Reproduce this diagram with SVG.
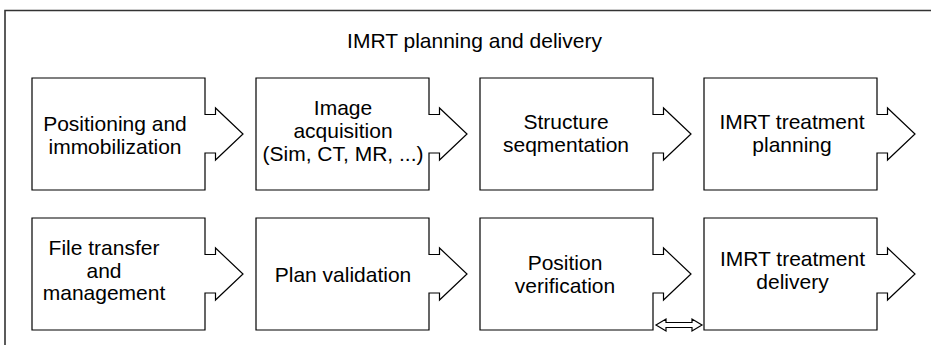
<svg xmlns="http://www.w3.org/2000/svg" width="931" height="345" viewBox="0 0 931 345">
<style>
.box{fill:#fff;stroke:#000;stroke-width:1.2;stroke-linejoin:miter}
.t{font-family:"Liberation Sans",Arial,sans-serif;font-size:21px;fill:#000;text-anchor:middle}
.frame{fill:none;stroke:#333;stroke-width:1.6}
.conn{fill:#fff;stroke:#000;stroke-width:1.2}
</style>
<defs>
<path id="shape" d="M0,0 H173 V36.5 H183.5 V30 L211,56 L183.5,82 V75 H173 V112 H0 Z"/>
</defs>
<rect width="931" height="345" fill="#fff"/>
<path class="frame" d="M5,345 V10.5 H931"/>
<text class="t" x="474.5" y="48">IMRT planning and delivery</text>

<g id="n1" transform="translate(32,78)">
<use href="#shape" class="box"/>
<text class="t" x="83" y="53">Positioning and</text>
<text class="t" x="83" y="75.5">immobilization</text>
</g>
<g id="n2" transform="translate(256,78)">
<use href="#shape" class="box"/>
<text class="t" x="87" y="37">Image</text>
<text class="t" x="87" y="60">acquisition</text>
<text class="t" x="87" y="83">(Sim, CT, MR, ...)</text>
</g>
<g id="n3" transform="translate(480,78)">
<use href="#shape" class="box"/>
<text class="t" x="86" y="50.5">Structure</text>
<text class="t" x="86" y="73.5">seqmentation</text>
</g>
<g id="n4" transform="translate(704,78)">
<use href="#shape" class="box"/>
<text class="t" x="88" y="50.5">IMRT treatment</text>
<text class="t" x="88" y="73.5">planning</text>
</g>

<g id="n5" transform="translate(32,218)">
<use href="#shape" class="box"/>
<text class="t" x="72" y="37">File transfer</text>
<text class="t" x="72" y="59.5">and</text>
<text class="t" x="72" y="82">management</text>
</g>
<g id="n6" transform="translate(256,218)">
<use href="#shape" class="box"/>
<text class="t" x="87" y="63.5">Plan validation</text>
</g>
<g id="n7" transform="translate(480,218)">
<use href="#shape" class="box"/>
<text class="t" x="85" y="52">Position</text>
<text class="t" x="85" y="75">verification</text>
</g>
<g id="n8" transform="translate(704,218)">
<use href="#shape" class="box"/>
<text class="t" x="88.5" y="48">IMRT treatment</text>
<text class="t" x="88.5" y="71">delivery</text>
</g>

<g id="connectors">
<path class="conn" d="M656,325 L666,319 V322.5 H692 V319 L702,325 L692,331 V327.5 H666 V331 Z"/>
</g>
</svg>
